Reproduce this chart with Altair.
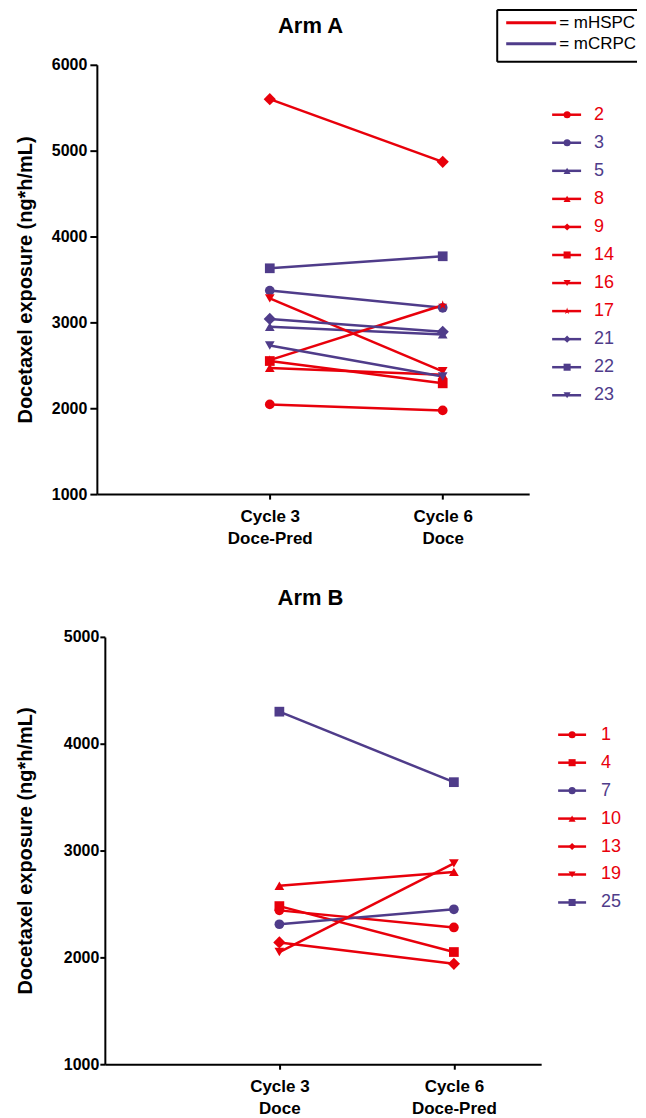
import altair as alt
import pandas as pd

RED = "#E8000B"
PURPLE = "#4F3C8A"
FONT = "Liberation Sans"

groups = ["mHSPC", "mCRPC"]
group_colors = [RED, PURPLE]
box_labels = ["= mHSPC", "= mCRPC"]

# Arm A
a_ids = ["2", "3", "5", "8", "9", "14", "16", "17", "21", "22", "23"]
a_group = ["mHSPC", "mCRPC", "mCRPC", "mHSPC", "mHSPC", "mHSPC", "mHSPC", "mHSPC", "mCRPC", "mCRPC", "mCRPC"]
a_shape = ["circle", "circle", "triangle-up", "triangle-up", "diamond", "square", "triangle-down", "star", "diamond", "square", "triangle-down"]
a_c3 = [2045, 3370, 2950, 2470, 5600, 2550, 3280, 2560, 3040, 3630, 2730]
a_c6 = [1975, 3170, 2860, 2390, 4870, 2290, 2430, 3200, 2890, 3770, 2370]
a_xlabels = [["Cycle 3", "Doce-Pred"], ["Cycle 6", "Doce"]]
a_yticks = [1000, 2000, 3000, 4000, 5000, 6000]

# Arm B
b_ids = ["1", "4", "7", "10", "13", "19", "25"]
b_group = ["mHSPC", "mHSPC", "mCRPC", "mHSPC", "mHSPC", "mHSPC", "mCRPC"]
b_shape = ["circle", "square", "circle", "triangle-up", "diamond", "triangle-down", "square"]
b_c3 = [2440, 2480, 2310, 2670, 2140, 2050, 4300]
b_c6 = [2280, 2050, 2450, 2800, 1940, 2880, 3640]
b_xlabels = [["Cycle 3", "Doce"], ["Cycle 6", "Doce-Pred"]]
b_yticks = [1000, 2000, 3000, 4000, 5000]

shape_names = ["circle", "square", "diamond", "triangle-up", "triangle-down", "star"]
STAR = ("M0,-1L0.2245,-0.309L0.951,-0.309L0.363,0.118L0.588,0.809L0,0.382"
        "L-0.588,0.809L-0.363,0.118L-0.951,-0.309L-0.2245,-0.309Z")
shape_range = ["circle", "square", "diamond", "triangle-up", "triangle-down", STAR]

color_scale = alt.Scale(domain=groups, range=group_colors)
shape_scale = alt.Scale(domain=shape_names, range=shape_range)


def long_df(ids, grp, shp, c3, c6):
    rows = []
    for i in range(len(ids)):
        rows.append(dict(id=ids[i], group=grp[i], shape=shp[i], x=1, value=c3[i]))
        rows.append(dict(id=ids[i], group=grp[i], shape=shp[i], x=2, value=c6[i]))
    return pd.DataFrame(rows)


def legend_df(ids, grp, shp):
    return pd.DataFrame(dict(id=ids, group=grp, shape=shp, rank=list(range(len(ids)))))


def label_expr(xl):
    a = "['" + "','".join(xl[0]) + "']"
    b = "['" + "','".join(xl[1]) + "']"
    return f"datum.value == 1 ? {a} : {b}"


def panel(ids, grp, shp, c3, c6, xl, yticks, title, W, H, x0,
          leg_range, leg_x, y_tick, y_lpad, y_tpad, y_off, box=False):
    df = long_df(ids, grp, shp, c3, c6)
    leg = legend_df(ids, grp, shp)
    xenc = alt.X("x:Q", scale=alt.Scale(domain=[0, 2.5], range=[x0, W], nice=False),
                 axis=alt.Axis(values=[1, 2], labelExpr=label_expr(xl), title=None,
                               labelFontSize=17, labelFontWeight="bold", labelLineHeight=22,
                               tickSize=5, labelPadding=9, grid=False))
    yenc = alt.Y("value:Q", scale=alt.Scale(domain=[yticks[0], yticks[-1]], nice=False, zero=False),
                 axis=alt.Axis(values=yticks, format="d", title="Docetaxel exposure (ng*h/mL)",
                               labelFontSize=16, labelFontWeight="bold",
                               titleFontSize=20, titleFontWeight="bold", offset=y_off,
                               tickSize=y_tick, labelPadding=y_lpad, titlePadding=y_tpad, grid=False))
    color = alt.Color("group:N", scale=color_scale, legend=None)
    shape = alt.Shape("shape:N", scale=shape_scale, legend=None)
    lines = alt.Chart(df).mark_line(strokeWidth=2.5).encode(
        x=xenc, y=yenc, color=color, detail="id:N")
    points = alt.Chart(df).transform_filter("datum.shape != 'diamond'").mark_point(
        filled=True, size=95, opacity=1).encode(x=xenc, y=yenc, color=color, shape=shape)
    diamonds = alt.Chart(df).transform_filter("datum.shape == 'diamond'").mark_point(
        filled=True, size=150, opacity=1).encode(x=xenc, y=yenc, color=color, shape=shape)
    main = alt.layer(lines, points, diamonds)

    n = len(ids)
    ly = alt.Y("rank:Q", scale=alt.Scale(domain=[0, n - 1], range=leg_range, nice=False, zero=False), axis=None)
    lx0, lx1, mx, tx = leg_x
    leg_lines = alt.Chart(leg).mark_rule(strokeWidth=2.5).encode(
        x=alt.value(lx0), x2=alt.value(lx1), y=ly, color=color)
    leg_pts = alt.Chart(leg).mark_point(filled=True, size=50, opacity=1).encode(
        x=alt.value(mx), y=ly, color=color, shape=shape)
    leg_txt = alt.Chart(leg).mark_text(align="left", baseline="middle", fontSize=18, font=FONT).encode(
        x=alt.value(tx), y=ly, text="id:N", color=color)
    legend = alt.layer(leg_lines, leg_pts, leg_txt)

    one = pd.DataFrame({"t": [title]})
    ttl = alt.Chart(one).mark_text(fontSize=22, fontWeight="bold", font=FONT,
                                   align="center", baseline="middle").encode(
        x=alt.value(214), y=alt.value(-39), text="t:N")

    layers = [main, legend, ttl]
    if box:
        bx0, bx1, by0, by1 = 401, 541, -55, -3
        for (a, b, c, d) in [(bx0, bx1, by0, by0), (bx0, bx1, by1, by1), (bx0, bx0, by0, by1)]:
            layers.append(alt.Chart(one).mark_rule(color="black", strokeWidth=2).encode(
                x=alt.value(a), x2=alt.value(b), y=alt.value(c), y2=alt.value(d)))
        for i, g in enumerate(groups):
            yy = -42 + 21 * i
            gdf = pd.DataFrame({"g": [g], "t": [box_labels[i]]})
            layers.append(alt.Chart(gdf).mark_rule(strokeWidth=3).encode(
                x=alt.value(410), x2=alt.value(460), y=alt.value(yy),
                color=alt.Color("g:N", scale=color_scale, legend=None)))
            layers.append(alt.Chart(gdf).mark_text(
                align="left", baseline="middle", fontSize=17, font=FONT, color="black").encode(
                x=alt.value(463), y=alt.value(yy), text="t:N"))
    return alt.layer(*layers).resolve_scale(y="independent").properties(width=W, height=H)


top = panel(a_ids, a_group, a_shape, a_c3, a_c6, a_xlabels, a_yticks, "Arm A", 433, 430, 0,
            [50, 331], (456, 485, 471, 498), 7, 3, 16, 0, box=True)
bottom = panel(b_ids, b_group, b_shape, b_c3, b_c6, b_xlabels, b_yticks, "Arm B", 445, 428, 8,
               [98, 266], (462, 490, 476, 505), 5, 1, 28, -8)

chart = alt.vconcat(top, bottom, spacing=41).properties(
    padding={"left": 7, "top": 0, "right": 0, "bottom": 0}
).configure_view(strokeWidth=0).configure_axis(
    domainColor="black", domainWidth=2, tickColor="black", tickWidth=2,
    labelColor="black", titleColor="black", labelFont=FONT, titleFont=FONT
)

chart.save("out.html", embed_options={"renderer": "svg", "actions": False})
